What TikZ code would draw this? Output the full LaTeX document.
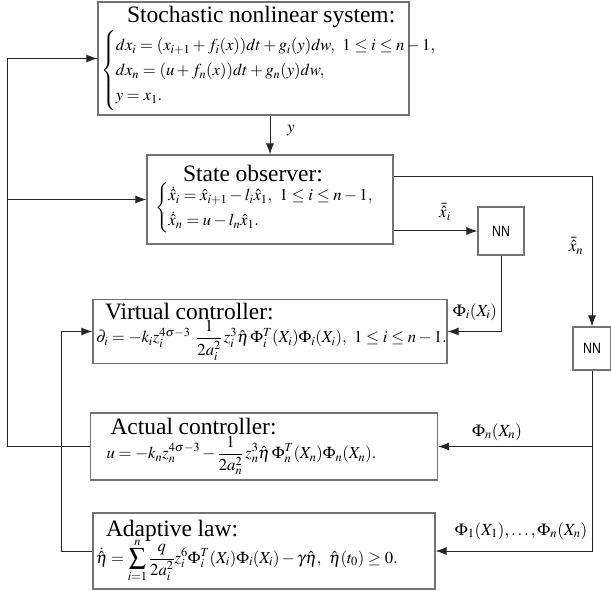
\documentclass[tikz,border=0pt]{standalone}
\usepackage{amsmath}
\usepackage{mathptmx}
\usepackage[no-math]{fontspec}
\setmainfont{Liberation Serif}
\newfontfamily\nnfont[FakeStretch=0.82]{Liberation Sans}
\usetikzlibrary{arrows.meta,calc}

\newcommand\blocktitle[2]{\hspace*{#1}{\fontsize{23.5}{27}\selectfont #2}}

\begin{document}
\begin{tikzpicture}[x=1pt,y=-1pt,
  blockbox/.style={draw=black!55, line width=1.1pt, align=left, inner sep=3pt, font=\fontsize{16.7}{21}\selectfont},
  nnbox/.style={draw=black!55, line width=1.1pt, minimum width=46pt, minimum height=48pt, font=\nnfont\fontsize{15}{17}\selectfont},
  flow/.style={black!85, line width=1pt, -{Latex[length=11pt,width=8pt]}},
  sig/.style={font=\fontsize{17}{20}\selectfont}]
\useasboundingbox (0,0) rectangle (611,591);

\node[blockbox, minimum height=113pt, text width=305pt] (sys) at (253.5,58.5)
  {\blocktitle{26pt}{Stochastic nonlinear system:}\\[2pt]
   \mbox{$\begin{cases} dx_i=(x_{i+1}+f_i(x))dt+g_i(y)dw,\ 1\le i\le n-1,\\
   dx_n=(u+f_n(x))dt+g_n(y)dw,\\ y=x_1. \end{cases}$}};
\node[blockbox, minimum height=89pt, text width=240pt] (obs) at (270,199.5)
  {\blocktitle{33pt}{State observer:}\\
   \hspace*{5pt}\mbox{$\begin{cases} \dot{\hat{x}}_i=\hat{x}_{i+1}-l_i\hat{x}_1,\ 1\le i\le n-1,\\
   \dot{\hat{x}}_n=u-l_n\hat{x}_1. \end{cases}$}};
\node[nnbox] (nn1) at (501,231) {NN};
\node[nnbox, minimum width=38pt, minimum height=43pt] (nn2) at (592,348.5) {NN};
\node[blockbox, minimum height=63pt, text width=348pt] (vc) at (270,331.5)
  {\blocktitle{9pt}{Virtual controller:}\\
   \mbox{$\displaystyle \partial_i=-k_iz_i^{4\sigma-3}\ \frac{1}{2a_i^2}\,z_i^3\hat{\eta}\,\Phi_i^T(X_i)\Phi_i(X_i),\ 1\le i\le n-1.$}};
\node[blockbox, minimum height=67pt, text width=341pt] (ac) at (264,446.5)
  {\blocktitle{17pt}{Actual controller:}\\
   \hspace*{13pt}\mbox{$\displaystyle u=-k_nz_n^{4\sigma-3}-\frac{1}{2a_n^2}\,z_n^3\hat{\eta}\,\Phi_n^T(X_n)\Phi_n(X_n).$}};
\node[blockbox, minimum height=76pt, text width=336pt] (al) at (264,551)
  {\blocktitle{10pt}{Adaptive law:}\\[-4pt]
   \mbox{$\displaystyle \dot{\hat{\eta}}=\sum_{i=1}^{n}\frac{q}{2a_i^2}z_i^6\Phi_i^T(X_i)\Phi_i(X_i)-\gamma\hat{\eta},\ \hat{\eta}(t_0)\ge 0.$}};

\coordinate (fbl) at (7,0);
\coordinate (fbi) at (61,0);

\draw[flow] (obs.north |- sys.south) -- (obs.north);
\draw[flow] (obs.east |- nn1.west) -- (nn1.west);
\draw[flow] ($(obs.north east)!0.24!(obs.south east)$) -| (nn2.north);
\draw[flow] (nn1.south) |- (vc.east);
\draw[flow] (nn2.south) |- (al.east);
\draw[flow] (nn2.south |- ac.east) -- (ac.east);
\draw[flow] (ac.west) -- (ac.west -| fbl) |- (sys.west);
\draw[flow] (fbl |- obs.west) -- (obs.west);
\draw[flow] (al.west) -- (al.west -| fbi) |- (vc.west);

\node[sig] (ylab) at (291,131) {$y$};
\node[sig] (xilab) at (445,212) {$\bar{\hat{x}}_i$};
\node[sig] (xnlab) at (576,246) {$\bar{\hat{x}}_n$};
\node[sig] (phiilab) at (475,312) {$\Phi_i(X_i)$};
\node[sig] (phinlab) at (497,432) {$\Phi_n(X_n)$};
\node[sig] (philab) at (521,531) {$\Phi_1(X_1),\ldots,\Phi_n(X_n)$};
\end{tikzpicture}
\end{document}
